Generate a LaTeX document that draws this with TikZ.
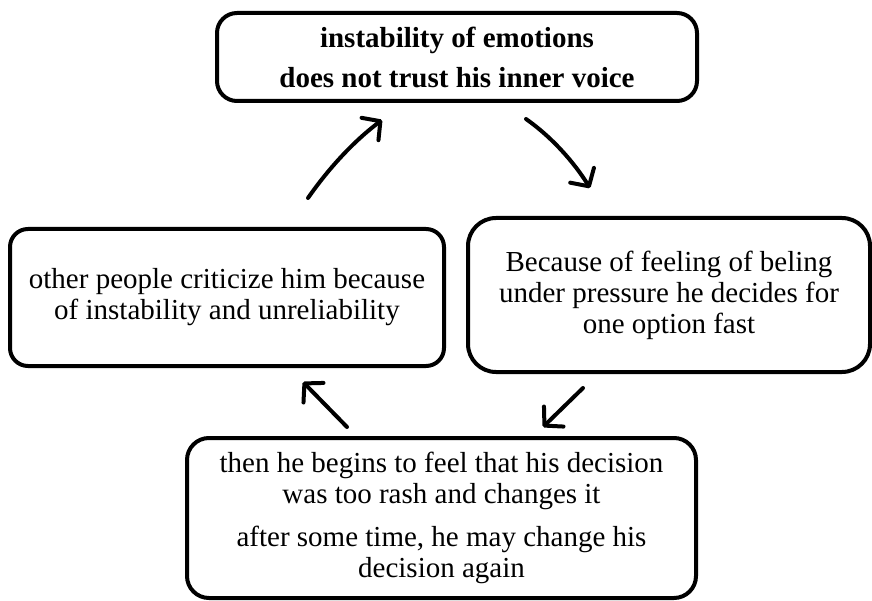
\documentclass[tikz,border=0pt]{standalone}
\usepackage{fontspec}
\setmainfont{Liberation Serif}
\usetikzlibrary{arrows.meta}
\begin{document}
\begin{tikzpicture}[x=1pt,y=-1pt,
  stagebox/.style={draw, line width=4pt, rounded corners=#1, align=center,
    inner sep=0pt, font=\fontsize{29}{31}\selectfont},
  stagebox/.default=18pt,
  cyclearrow/.style={line width=4pt, line cap=round,
    -{Straight Barb[length=13pt,width=28pt,round]}}]
\useasboundingbox (0,0) rectangle (872,601);

% the four stages of the cycle
\node[stagebox=20pt, minimum width=480pt, minimum height=88pt,
      font=\fontsize{29}{31}\selectfont\bfseries] (top) at (457,57)
  {instability of emotions\\[9pt]does not trust his inner voice};
\node[stagebox=28pt, minimum width=402pt, minimum height=154pt] (right) at (669,295)
  {Because of feeling of beling\\under pressure he decides for\\one option fast};
\node[stagebox=18pt, minimum width=434pt, minimum height=137pt] (left) at (227,297.5)
  {other people criticize him because\\of instability and unreliability};
\node[stagebox=22pt, minimum width=509pt, minimum height=160pt] (bottom) at (441.5,518)
  {then he begins to feel that his decision\\was too rash and changes it\\[12pt]after some time, he may change his\\decision again};

% end points of the arrows between the stages
\coordinate (lt1) at (308,198);
\coordinate (lt2) at (382,120);
\coordinate (tr1) at (526,119);
\coordinate (tr2) at (590,188);
\coordinate (rb1) at (583,388);
\coordinate (rb2) at (543,427);
\coordinate (bl1) at (347,427);
\coordinate (bl2) at (303,382);

\draw[cyclearrow] (lt1) .. controls (328.6,168.5) and (353.2,141.7) .. (lt2);
\draw[cyclearrow] (tr1) .. controls (551.4,136.8) and (573.6,161.7) .. (tr2);
\draw[cyclearrow] (rb1) -- (rb2);
\draw[cyclearrow] (bl1) -- (bl2);
\end{tikzpicture}
\end{document}
